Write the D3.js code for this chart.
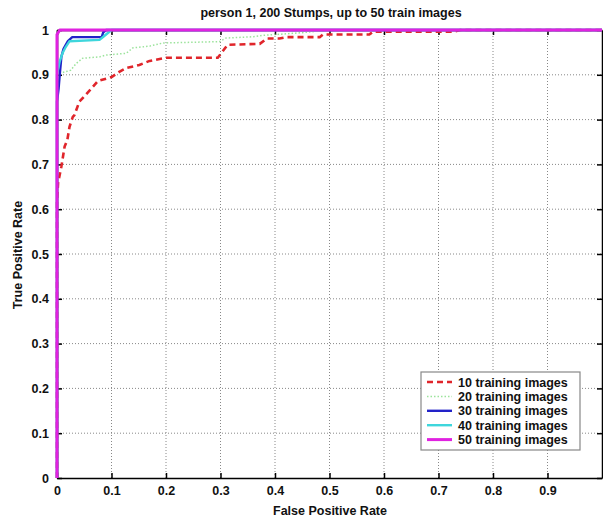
<!DOCTYPE html>
<html><head><meta charset="utf-8">
<script src="https://cdn.jsdelivr.net/npm/d3@7"></script>
<style>body{margin:0;background:#fff;} text{font-family:"Liberation Sans",Arial,sans-serif;font-weight:bold;}</style>
</head><body><svg id="c" width="603" height="521"></svg>
<script>
const title = "person 1, 200 Stumps, up to 50 train images";
const xLabel = "False Positive Rate";
const yLabel = "True Positive Rate";
const xTicks = [0,0.1,0.2,0.3,0.4,0.5,0.6,0.7,0.8,0.9];
const yTicks = [0,0.1,0.2,0.3,0.4,0.5,0.6,0.7,0.8,0.9,1];
const seriesNames = ["10 training images","20 training images","30 training images","40 training images","50 training images"];

const roc10 = [[0,0],[0,0.615],[0.002,0.659],[0.008,0.695],[0.014,0.74],[0.019,0.755],[0.023,0.784],[0.029,0.806],[0.032,0.81],[0.041,0.84],[0.06,0.865],[0.075,0.886],[0.1,0.895],[0.115,0.907],[0.127,0.915],[0.151,0.922],[0.17,0.931],[0.2,0.938],[0.295,0.938],[0.313,0.967],[0.372,0.969],[0.385,0.981],[0.408,0.981],[0.42,0.984],[0.482,0.984],[0.488,0.99],[0.573,0.99],[0.58,0.996],[0.727,0.996],[0.74,1],[1,1]];
const roc20 = [[0,0],[0,0.9],[0.01,0.905],[0.025,0.91],[0.035,0.925],[0.047,0.937],[0.078,0.94],[0.09,0.944],[0.127,0.948],[0.139,0.96],[0.17,0.964],[0.194,0.971],[0.298,0.974],[0.31,0.982],[0.36,0.985],[0.378,0.988],[0.45,0.994],[0.5,1],[1,1]];
const roc30 = [[0,0],[0,0.84],[0.003,0.87],[0.005,0.9],[0.008,0.94],[0.012,0.958],[0.02,0.975],[0.028,0.984],[0.082,0.984],[0.085,0.995],[0.09,1],[1,1]];
const roc40 = [[0,0],[0,0.9],[0.005,0.93],[0.01,0.948],[0.015,0.96],[0.023,0.975],[0.078,0.978],[0.085,0.985],[0.095,0.995],[0.1,1],[1,1]];
const roc50 = [[0,0],[0,0.99],[0.005,1],[1,1]];

const svg = d3.select("#c");
const L=57, R=602, T=30, B=478;
const FS = 12.5;
const x = d3.scaleLinear().domain([0,1]).range([L,R]);
const y = d3.scaleLinear().domain([0,1]).range([B,T]);

// grid
const g = svg.append("g");
g.selectAll(".gx").data(xTicks.filter(d=>d>0)).join("line")
  .attr("x1",d=>x(d)).attr("x2",d=>x(d)).attr("y1",T).attr("y2",B)
  .attr("stroke","#888").attr("stroke-width",1).attr("stroke-dasharray","1,2");
g.selectAll(".gy").data(yTicks.filter(d=>d>0&&d<1)).join("line")
  .attr("y1",d=>y(d)).attr("y2",d=>y(d)).attr("x1",L).attr("x2",R)
  .attr("stroke","#888").attr("stroke-width",1).attr("stroke-dasharray","1,2");

// axes
const xAx = d3.axisBottom(x).tickValues(xTicks).tickSizeInner(-5).tickSizeOuter(0).tickPadding(8).tickFormat(d3.format("~g"));
const yAx = d3.axisLeft(y).tickValues(yTicks).tickSizeInner(-5).tickSizeOuter(0).tickPadding(8).tickFormat(d3.format("~g"));
const xg = svg.append("g").attr("transform",`translate(0,${B})`).call(xAx);
const yg = svg.append("g").attr("transform",`translate(${L},0)`).call(yAx);
const xt = svg.append("g").attr("transform",`translate(0,${T})`).call(d3.axisTop(x).tickValues(xTicks).tickSizeInner(-5).tickSizeOuter(0).tickFormat(""));
const yr = svg.append("g").attr("transform",`translate(${R},0)`).call(d3.axisRight(y).tickValues(yTicks).tickSizeInner(-5).tickSizeOuter(0).tickFormat(""));
[xg,yg,xt,yr].forEach(a=>{
  a.select(".domain").attr("stroke","#000").attr("stroke-width",1.5);
  a.selectAll(".tick line").attr("stroke","#000").attr("stroke-width",1.5);
  a.selectAll("text").attr("font-size",FS).attr("font-weight","bold").attr("fill","#111").attr("font-family","Liberation Sans, Arial, sans-serif");
});

// curves
const line = d3.line().x(d=>x(d[0])).y(d=>y(d[1]));
const styles = [
  {data:roc10,color:"#e0252b",w:2.6,dash:"6,4"},
  {data:roc20,color:"#9be39b",w:1.5,dash:"1.5,2"},
  {data:roc30,color:"#2222c8",w:2.4,dash:null},
  {data:roc40,color:"#3ed6dc",w:2.4,dash:null},
  {data:roc50,color:"#e022e0",w:3,dash:null}
];
styles.forEach(s=>{
  svg.append("path").attr("d",line(s.data)).attr("fill","none")
    .attr("stroke",s.color).attr("stroke-width",s.w)
    .attr("stroke-dasharray",s.dash).attr("stroke-linejoin","round");
});

// title & labels
svg.append("text").attr("x",331).attr("y",17).attr("text-anchor","middle").attr("font-size",FS).attr("fill","#111").text(title);
svg.append("text").attr("x",330).attr("y",515).attr("text-anchor","middle").attr("font-size",FS).attr("fill","#111").text(xLabel);
svg.append("text").attr("transform","translate(22,255) rotate(-90)").attr("text-anchor","middle").attr("font-size",FS).attr("fill","#111").text(yLabel);

// legend
const lg = svg.append("g").attr("transform","translate(421,372)");
lg.append("rect").attr("width",159).attr("height",78).attr("fill","#fff").attr("stroke","#888").attr("stroke-width",1.2);
seriesNames.forEach((n,i)=>{
  const s = styles[i]; const yy = 10 + i*14.4;
  lg.append("line").attr("x1",6).attr("x2",31).attr("y1",yy).attr("y2",yy)
    .attr("stroke",s.color).attr("stroke-width",s.w).attr("stroke-dasharray",s.dash);
  lg.append("text").attr("x",37).attr("y",yy+4.5).attr("font-size",FS).attr("fill","#111").text(n);
});
</script></body></html>
